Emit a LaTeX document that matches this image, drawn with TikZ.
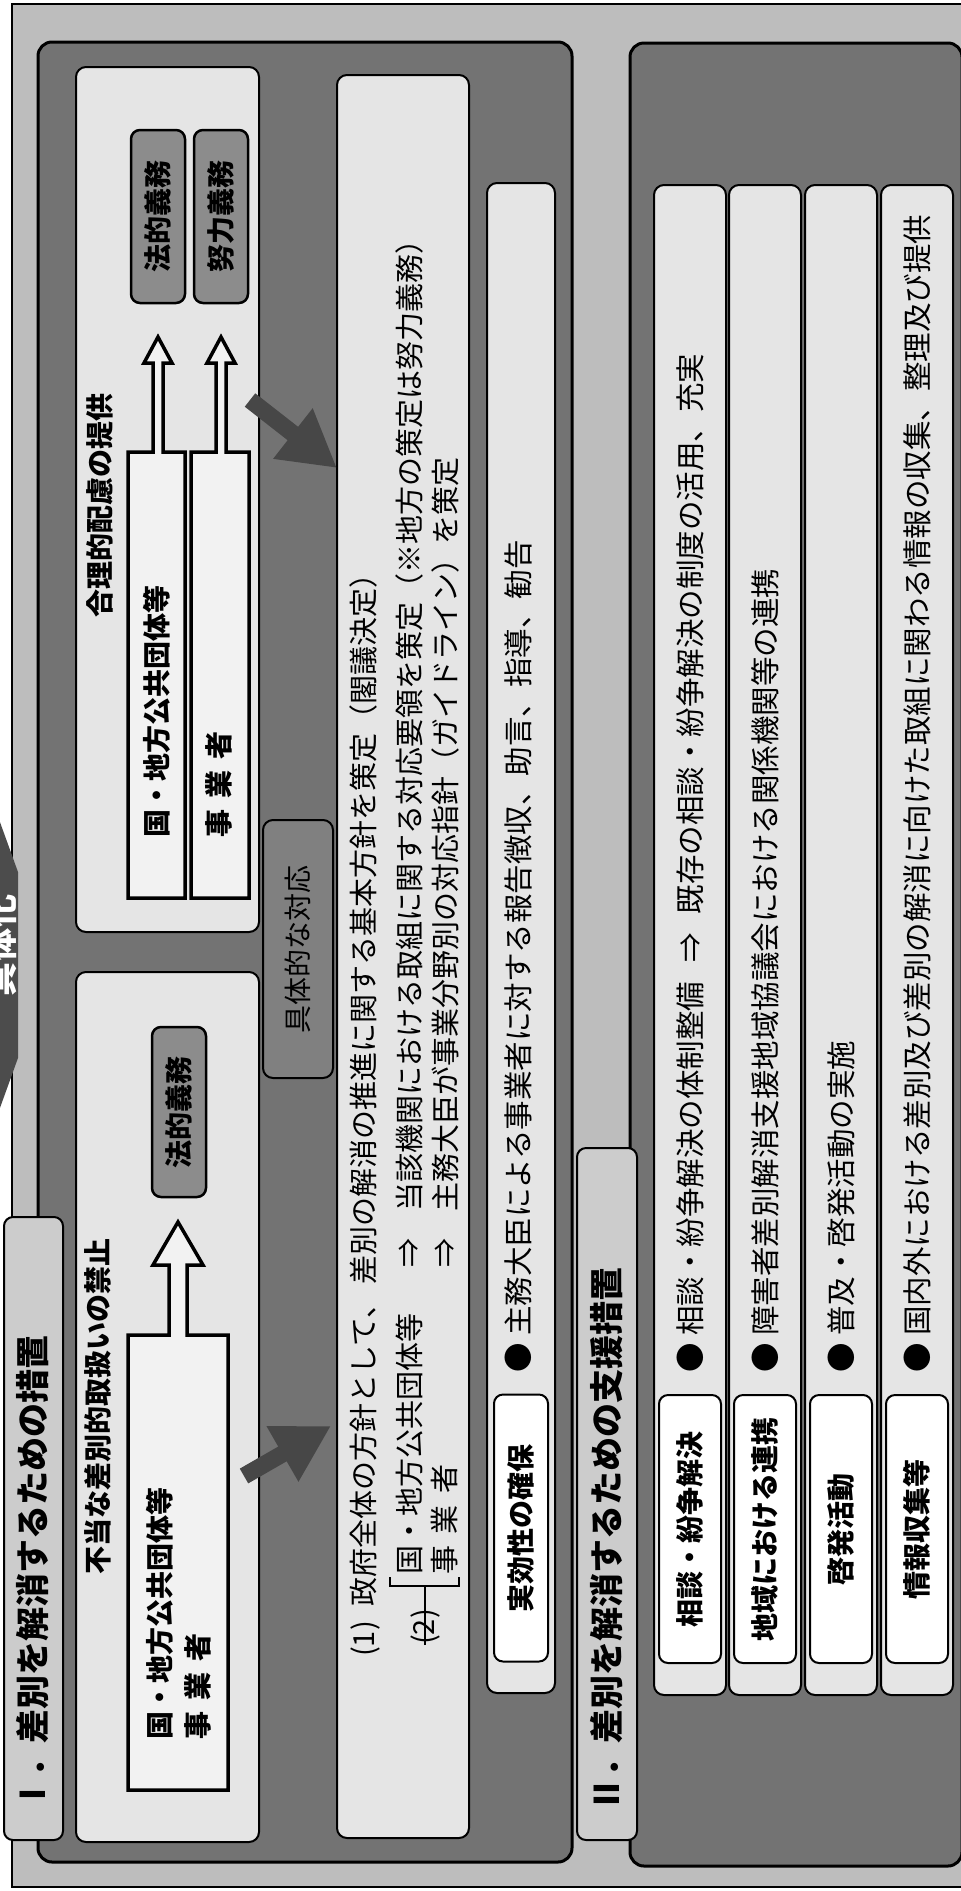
\documentclass[tikz,border=0pt]{standalone}
\usepackage{fontspec}
\newfontfamily\jp{Noto Sans CJK JP}
\usetikzlibrary{arrows.meta}
\definecolor{bgc}{gray}{0.74}
\definecolor{panelc}{gray}{0.45}
\definecolor{lightc}{gray}{0.9}
\definecolor{tabc}{gray}{0.8}
\definecolor{dutyc}{gray}{0.55}
\definecolor{concc}{gray}{0.5}
\definecolor{arrowc}{gray}{0.28}
\definecolor{hollowc}{gray}{0.95}
\definecolor{bannerc}{gray}{0.3}
\begin{document}
\begin{tikzpicture}[x=1pt,y=-1pt,
  panel/.style={draw=black, line width=3pt, fill=panelc, rounded corners=14pt, anchor=north west, inner sep=0pt, outer sep=0pt},
  lightbox/.style={draw=black, line width=2pt, fill=lightc, rounded corners=10pt, anchor=north west, inner sep=0pt, outer sep=0pt},
  tabbox/.style={draw=black, line width=2pt, fill=tabc, rounded corners=9pt, anchor=north west, inner sep=0pt, outer sep=0pt},
  labelbox/.style={draw=black, line width=2pt, fill=white, rounded corners=9pt, rotate=90, inner sep=0pt, font={\jp\bfseries\fontsize{28pt}{30pt}\selectfont}},
  dutybox/.style={draw=black, line width=2.5pt, fill=dutyc, rounded corners=9pt, rotate=90, inner sep=0pt, font={\jp\bfseries\fontsize{28pt}{30pt}\selectfont}},
  concbox/.style={draw=black, line width=2pt, fill=concc, rounded corners=10pt, rotate=90, inner sep=0pt, font={\jp\fontsize{28pt}{30pt}\selectfont}},
  vtxt/.style={rotate=90, inner sep=0pt, font={\jp\fontsize{29pt}{31pt}\selectfont}},
  vrow/.style={rotate=90, inner sep=0pt, font={\jp\fontsize{29.5pt}{31pt}\selectfont}},
  vbold/.style={rotate=90, inner sep=0pt, font={\jp\bfseries\fontsize{28pt}{30pt}\selectfont}},
  vtitle/.style={rotate=90, inner sep=0pt, font={\jp\bfseries\fontsize{34pt}{36pt}\selectfont}},
  hollow/.style={draw=black, line width=3.5pt, fill=hollowc, line join=miter},
  bigarrow/.style={line width=17pt, draw=arrowc, -{Triangle[length=56pt,width=60pt]}}
]
\useasboundingbox (0,0) rectangle (961,1891);
\clip (0,0) rectangle (961,1891);
% page and frame
\fill[white] (0,0) rectangle (961,1891);
\fill[bgc] (12,4) rectangle (990,1887);
\draw[line width=2.5pt] (12,4) rectangle (990,1887);
% banner at the top of the frame
\fill[bannerc] (-8,800) -- (18,872) -- (18,1058) -- (-8,1130) -- cycle;
\node[vtitle, text=white] (banner) at (1,945) {具体化};

% panels
\node[panel, minimum width=534pt, minimum height=1820pt] (p1) at (38,42) {};
\node[panel, minimum width=332pt, minimum height=1823pt] (p2) at (630,43) {};
\node[tabbox, minimum width=59pt, minimum height=623pt] (tab1) at (4,1217) {};
\node[tabbox, minimum width=60pt, minimum height=692pt] (tab2) at (577,1148) {};

% panel I boxes
\node[lightbox, minimum width=183pt, minimum height=865pt] (boxA) at (76,67) {};
\node[lightbox, minimum width=183pt, minimum height=870pt] (boxB) at (76,972) {};
\node[lightbox, minimum width=132pt, minimum height=1763pt] (boxC) at (337,75) {};
\node[lightbox, minimum width=68pt, minimum height=1510pt] (boxD) at (487,183) {};
\node[concbox, minimum width=258pt, minimum height=70pt] (conc) at (298,949) {具体的な対応};

% panel II rows
\node[lightbox, minimum width=72pt, minimum height=1510pt] (r1) at (654,185) {};
\node[lightbox, minimum width=72pt, minimum height=1510pt] (r2) at (729,185) {};
\node[lightbox, minimum width=72pt, minimum height=1510pt] (r3) at (805,185) {};
\node[lightbox, minimum width=72pt, minimum height=1510pt] (r4) at (881,185) {};
\node[labelbox, minimum width=268pt, minimum height=62pt] (l1) at (690,1529) {相談・紛争解決};
\node[labelbox, minimum width=268pt, minimum height=62pt] (l2) at (765,1529) {地域における連携};
\node[labelbox, minimum width=268pt, minimum height=62pt] (l3) at (841,1529) {啓発活動};
\node[labelbox, minimum width=268pt, minimum height=62pt] (l4) at (917,1529) {情報収集等};
\node[labelbox, minimum width=267pt, minimum height=54pt] (ld) at (521,1528) {実効性の確保};

% hollow block arrows
\draw[hollow] (128,898) -- (128,452) -- (153,452) -- (153,363) -- (144,363) -- (158,337) -- (172,363) -- (163,363) -- (163,452) -- (185,452) -- (185,898) -- cycle;
\draw[hollow] (191,898) -- (191,452) -- (216,452) -- (216,363) -- (207,363) -- (221,337) -- (235,363) -- (226,363) -- (226,452) -- (249,452) -- (249,898) -- cycle;
\draw[hollow] (128,1790) -- (128,1335) -- (169,1335) -- (169,1265) -- (153,1265) -- (178,1222) -- (203,1265) -- (187,1265) -- (187,1335) -- (228,1335) -- (228,1790) -- cycle;

% duty boxes
\node[dutybox, minimum width=173pt, minimum height=54pt] (dA1) at (158,216.5) {法的義務};
\node[dutybox, minimum width=173pt, minimum height=54pt] (dA2) at (221,216.5) {努力義務};
\node[dutybox, minimum width=170pt, minimum height=54pt] (dB1) at (179,1112) {法的義務};

% big arrows
\coordinate (a1s) at (250,400);
\coordinate (a1e) at (337,468);
\coordinate (a2s) at (244,1476);
\coordinate (a2e) at (331,1426);
\draw[bigarrow] (a1s) -- (a1e);
\draw[bigarrow] (a2s) -- (a2e);

% titles
\node[vtitle, anchor=west] (t1) at (33,1812) {Ⅰ．差別を解消するための措置};
\node[vtitle, anchor=west] (t2) at (607,1812) {Ⅱ．差別を解消するための支援措置};
\node[vbold] (tA) at (100,505) {合理的配慮の提供};
\node[vbold] (tB) at (98,1406) {不当な差別的取扱いの禁止};
\node[vbold, anchor=west] (tA1) at (157,838) {国・地方公共団体等};
\node[vbold, anchor=west] (tA2) at (219,838) {事\hspace{0.4em}業\hspace{0.4em}者};
\node[vbold, anchor=west] (tB1) at (160,1740) {国・地方公共団体等};
\node[vbold, anchor=west] (tB2) at (198,1740) {事\hspace{0.4em}業\hspace{0.4em}者};

% box C text
\node[vtxt, anchor=west] (c1) at (365,1657) {(1)\hspace{0.5em}政府全体の方針として、\hspace{0.2em}差別の解消の推進に関する基本方針を策定（閣議決定）};
\node[vtxt, anchor=west] (c2a) at (409,1575) {国・地方公共団体等};
\node[vtxt] (c2b) at (409,1253) {⇒};
\node[vtxt, anchor=west] (c2c) at (409,1212) {当該機関における取組に関する対応要領を策定（※地方の策定は努力義務）};
\node[vtxt, anchor=west] (c3a) at (445,1575) {事\hspace{0.4em}業\hspace{0.4em}者};
\node[vtxt] (c3b) at (445,1253) {⇒};
\node[vtxt, anchor=west] (c3c) at (445,1212) {主務大臣が事業分野別の対応指針（ガイドライン）を策定};
\node[vtxt] (c2num) at (425,1627) {(2)};
\draw[line width=1.5pt] (390,1577) -- (390,1586) -- (459,1586) -- (459,1577);
\draw[line width=1.5pt] (c2num.west) -- (425,1586);

% bullets
\node[vrow, anchor=west] (bd) at (518,1373) {●\hspace{0.25em}主務大臣による事業者に対する報告徴収、助言、指導、勧告};
\node[vrow, anchor=west] (b1) at (690,1373) {●\hspace{0.25em}相談・紛争解決の体制整備\hspace{0.65em}⇒\hspace{0.65em}既存の相談・紛争解決の制度の活用、充実};
\node[vrow, anchor=west] (b2) at (765,1373) {●\hspace{0.25em}障害者差別解消支援地域協議会における関係機関等の連携};
\node[vrow, anchor=west] (b3) at (841,1373) {●\hspace{0.25em}普及・啓発活動の実施};
\node[vrow, anchor=west] (b4) at (917,1373) {●\hspace{0.25em}国内外における差別及び差別の解消に向けた取組に関わる情報の収集、整理及び提供};
\end{tikzpicture}
\end{document}
